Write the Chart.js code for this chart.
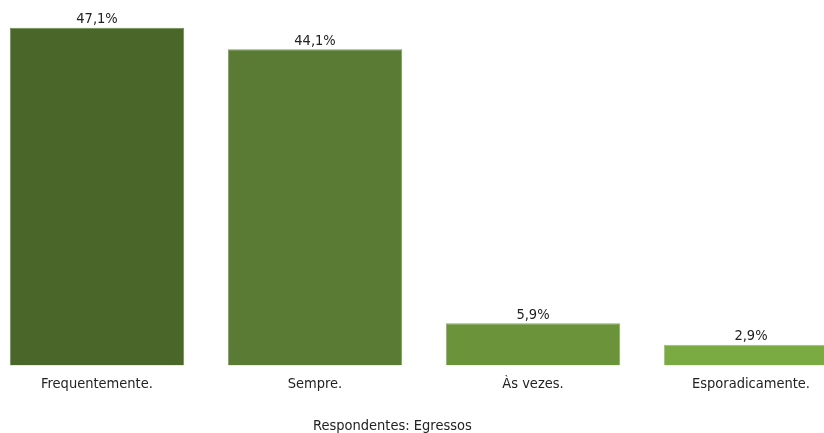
<!DOCTYPE html>
<html>
<head>
<meta charset="utf-8">
<script src="https://cdn.jsdelivr.net/npm/chart.js@4.4.1/dist/chart.umd.min.js"></script>
<style>
  html, body { margin: 0; padding: 0; background: #fff; overflow: hidden; }
  #wrap { position: relative; width: 824px; height: 433px; overflow: hidden; }
  #box { position: absolute; left: -12px; top: 0; width: 872px; height: 433px; }
  #xtitle {
    position: absolute; left: 313px; top: 417px;
    font: 14.5px "DejaVu Sans Condensed", "DejaVu Sans", sans-serif; color: #222; white-space: nowrap;
  }
</style>
</head>
<body>
<div id="wrap">
  <div id="box"><canvas id="chart"></canvas></div>
  <div id="xtitle">Respondentes: Egressos</div>
</div>
<script>
// Data
const categories = ["Frequentemente.", "Sempre.", "Às vezes.", "Esporadicamente."];
const percentages = [47.1, 44.1, 5.9, 2.9];
const barColors = ["#4a6628", "#5a7b33", "#6b943a", "#7aab42"];
const barBorders = ["#6f8c50", "#7c9a5a", "#8aad62", "#98c26a"];

const fontFamily = '"DejaVu Sans Condensed", "DejaVu Sans", sans-serif';

// Value labels above each bar
const valueLabels = {
   id: 'valueLabels',
   afterDatasetsDraw(chart) {
      const ctx = chart.ctx;
      const meta = chart.getDatasetMeta(0);
      ctx.save();
      ctx.font = '14.5px ' + fontFamily;
      ctx.fillStyle = '#222';
      ctx.textAlign = 'center';
      ctx.textBaseline = 'bottom';
      meta.data.forEach((bar, i) => {
         const txt = percentages[i].toFixed(1).replace('.', ',') + '%';
         ctx.fillText(txt, bar.x, bar.y - 1);
      });
      ctx.restore();
   }
};

new Chart(document.getElementById('chart'), {
   type: 'bar',
   data: {
      labels: categories,
      datasets: [{
         data: percentages,
         backgroundColor: barColors,
         borderColor: barBorders,
         borderWidth: 1,
         barPercentage: 0.8,
         categoryPercentage: 1.0
      }]
   },
   options: {
      responsive: true,
      maintainAspectRatio: false,
      animation: false,
      layout: { padding: { top: 7, bottom: 30, left: 0, right: 0 } },
      plugins: {
         legend: { display: false },
         tooltip: { enabled: false }
      },
      scales: {
         x: {
            grid: { display: false, drawTicks: false },
            border: { display: false },
            ticks: {
               color: '#222',
               padding: 10,
               maxRotation: 0,
               font: { family: fontFamily, size: 14.5 }
            }
         },
         y: {
            display: false,
            min: 0,
            max: 50
         }
      }
   },
   plugins: [valueLabels]
});
</script>
</body>
</html>
